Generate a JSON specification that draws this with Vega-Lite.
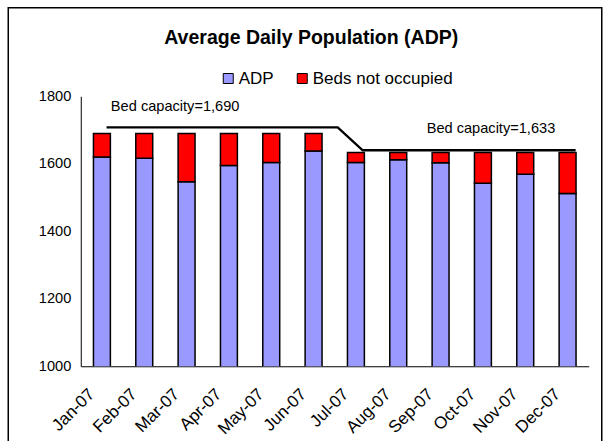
{
  "$schema": "https://vega.github.io/schema/vega-lite/v6.json",
  "width": 508,
  "height": 270,
  "padding": {"left": 6.75, "top": 6.25, "right": 0, "bottom": 0},
  "background": "white",
  "config": {"view": {"stroke": null}, "font": "Liberation Sans"},
  "title": {
    "text": "Average Daily Population (ADP)",
    "font": "Liberation Sans",
    "fontSize": 19.5,
    "fontWeight": "bold",
    "color": "black",
    "anchor": "middle",
    "dx": -23.5,
    "offset": -41.5
  },
  "layer": [
    {
      "data": {
        "values": [
          {"month": "Jan-07", "series": "ADP", "value": 1620},
          {"month": "Jan-07", "series": "Beds not occupied", "value": 70},
          {"month": "Feb-07", "series": "ADP", "value": 1616},
          {"month": "Feb-07", "series": "Beds not occupied", "value": 74},
          {"month": "Mar-07", "series": "ADP", "value": 1547},
          {"month": "Mar-07", "series": "Beds not occupied", "value": 143},
          {"month": "Apr-07", "series": "ADP", "value": 1595},
          {"month": "Apr-07", "series": "Beds not occupied", "value": 95},
          {"month": "May-07", "series": "ADP", "value": 1604},
          {"month": "May-07", "series": "Beds not occupied", "value": 86},
          {"month": "Jun-07", "series": "ADP", "value": 1638},
          {"month": "Jun-07", "series": "Beds not occupied", "value": 52},
          {"month": "Jul-07", "series": "ADP", "value": 1604},
          {"month": "Jul-07", "series": "Beds not occupied", "value": 29},
          {"month": "Aug-07", "series": "ADP", "value": 1612},
          {"month": "Aug-07", "series": "Beds not occupied", "value": 21},
          {"month": "Sep-07", "series": "ADP", "value": 1603},
          {"month": "Sep-07", "series": "Beds not occupied", "value": 30},
          {"month": "Oct-07", "series": "ADP", "value": 1542},
          {"month": "Oct-07", "series": "Beds not occupied", "value": 91},
          {"month": "Nov-07", "series": "ADP", "value": 1569},
          {"month": "Nov-07", "series": "Beds not occupied", "value": 64},
          {"month": "Dec-07", "series": "ADP", "value": 1512},
          {"month": "Dec-07", "series": "Beds not occupied", "value": 121}
        ]
      },
      "mark": {"type": "bar", "clip": true, "stroke": "black", "strokeWidth": 1.5},
      "encoding": {
        "x": {
          "field": "month",
          "type": "ordinal",
          "sort": null,
          "scale": {"paddingInner": 0.6, "paddingOuter": 0.3},
          "axis": {
            "title": null,
            "labelAngle": -45,
            "labelAlign": "right",
            "labelBaseline": "middle",
            "labelFontSize": 17,
            "labelColor": "black",
            "ticks": false,
            "labelPadding": 25,
            "labelOffset": -10,
            "domainColor": "black",
            "domainWidth": 1,
            "grid": false
          }
        },
        "y": {
          "field": "value",
          "type": "quantitative",
          "stack": "zero",
          "scale": {"domain": [1000, 1800], "nice": false, "zero": false},
          "axis": {
            "title": null,
            "values": [1000, 1200, 1400, 1600, 1800],
            "format": "d",
            "labelFontSize": 14.6,
            "labelColor": "black",
            "ticks": false,
            "labelPadding": 10,
            "domainColor": "black",
            "domainWidth": 1,
            "grid": false
          }
        },
        "color": {
          "field": "series",
          "type": "nominal",
          "scale": {"domain": ["ADP", "Beds not occupied"], "range": ["#9999FF", "#FF0000"]},
          "legend": {
            "orient": "none",
            "legendX": 139,
            "legendY": -26.5,
            "direction": "horizontal",
            "title": null,
            "symbolType": "square",
            "symbolSize": 100,
            "symbolStrokeColor": "black",
            "symbolStrokeWidth": 1,
            "symbolOpacity": 1,
            "labelFontSize": 17,
            "labelFont": "Liberation Sans",
            "labelColor": "black",
            "labelOffset": 2,
            "columnPadding": 20,
            "padding": 0
          }
        },
        "order": {"field": "series", "sort": "ascending"}
      }
    },
    {
      "layer": [
        {
          "data": {
            "values": [
              {"pos": 0.61, "capacity": 1708},
              {"pos": 6.07, "capacity": 1708},
              {"pos": 6.66, "capacity": 1640},
              {"pos": 11.69, "capacity": 1640}
            ]
          },
          "mark": {"type": "line", "color": "black", "strokeWidth": 2.3},
          "encoding": {
            "x": {"field": "pos", "type": "quantitative", "scale": {"domain": [0, 12], "nice": false}, "axis": null},
            "y": {"field": "capacity", "type": "quantitative", "scale": {"domain": [1000, 1800], "nice": false, "zero": false}, "axis": null}
          }
        },
        {
          "data": {
            "values": [
              {"pos": 2.23, "level": 1769, "label": "Bed capacity=1,690"},
              {"pos": 9.69, "level": 1704, "label": "Bed capacity=1,633"}
            ]
          },
          "mark": {"type": "text", "font": "Liberation Sans", "fontSize": 14.6, "color": "black", "align": "center", "baseline": "middle"},
          "encoding": {
            "x": {"field": "pos", "type": "quantitative", "scale": {"domain": [0, 12], "nice": false}, "axis": null},
            "y": {"field": "level", "type": "quantitative", "scale": {"domain": [1000, 1800], "nice": false, "zero": false}, "axis": null},
            "text": {"field": "label"}
          }
        }
      ]
    },
    {
      "data": {"values": [{}]},
      "mark": {"type": "rect", "fill": null, "stroke": "black", "strokeWidth": 1.5},
      "encoding": {
        "x": {"datum": -0.1427, "type": "quantitative", "scale": {"domain": [0, 1], "nice": false, "zero": false}, "axis": null},
        "x2": {"datum": 1.0256},
        "y": {"datum": 1.3278, "type": "quantitative", "scale": {"domain": [0, 1], "nice": false, "zero": false}, "axis": null},
        "y2": {"datum": -0.2944}
      }
    }
  ],
  "resolve": {"scale": {"x": "independent", "y": "independent", "color": "independent"}}
}
